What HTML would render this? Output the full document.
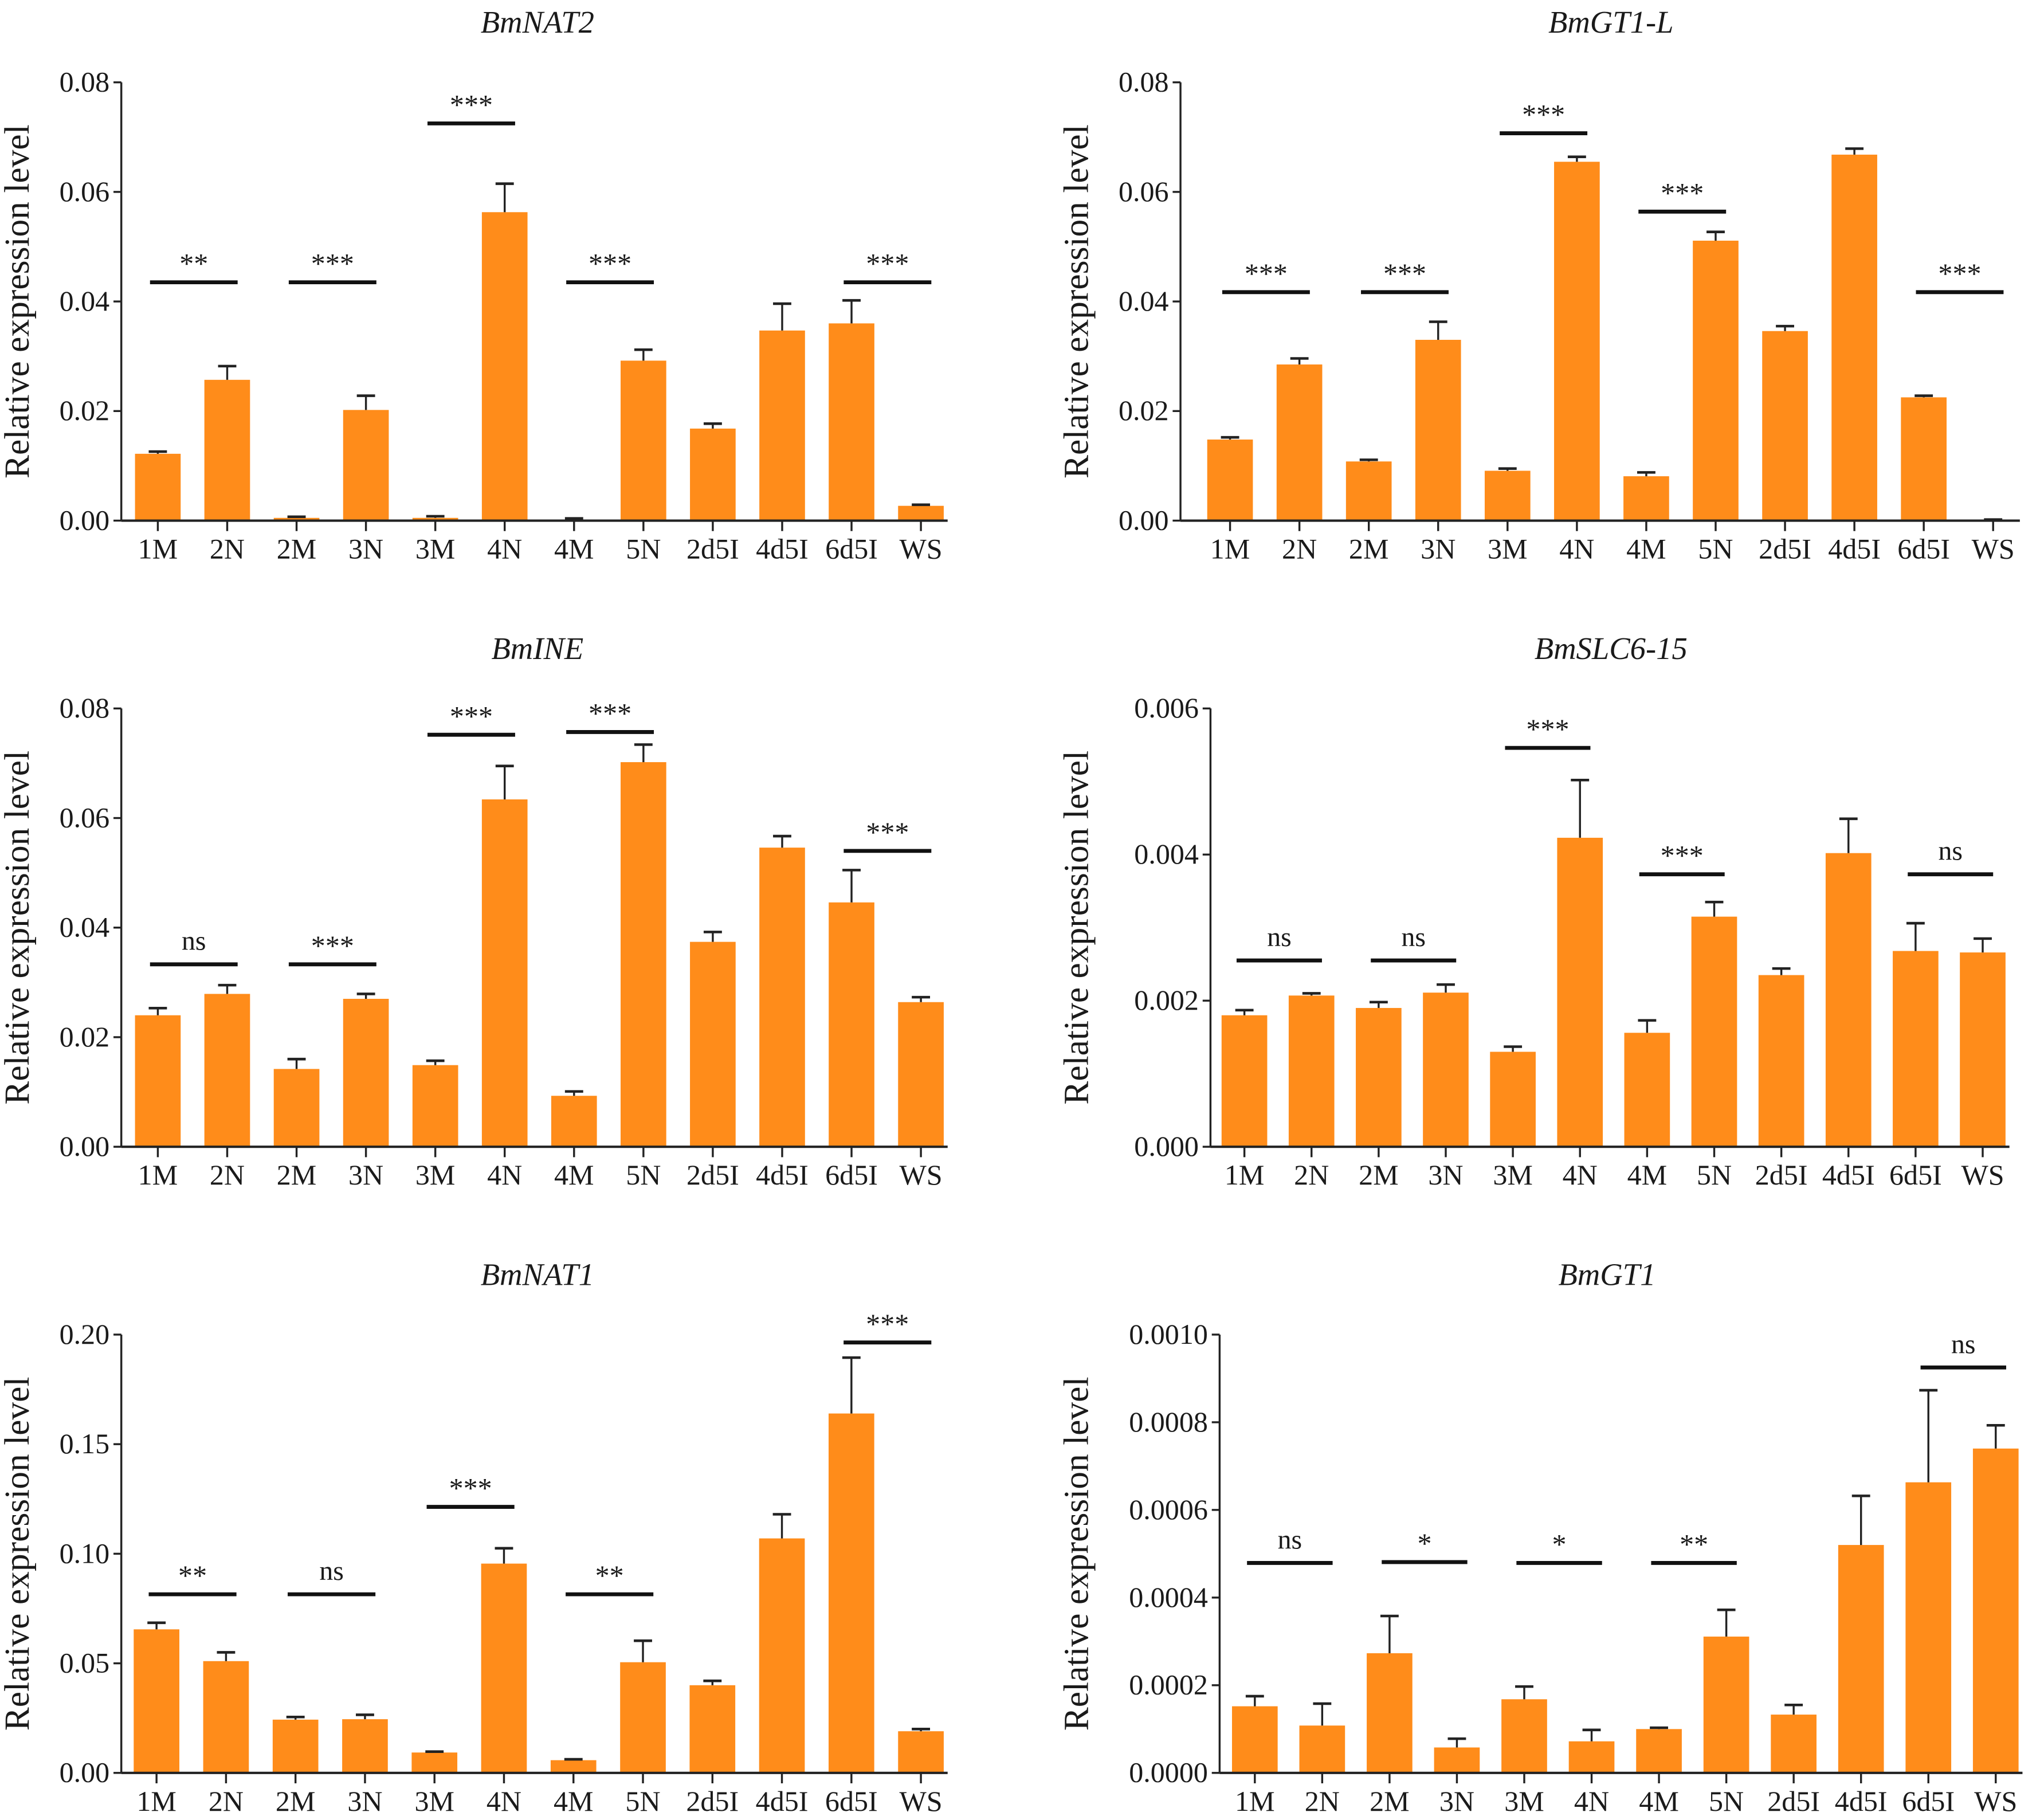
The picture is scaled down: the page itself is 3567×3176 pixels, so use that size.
<!DOCTYPE html>
<html><head><meta charset="utf-8"><style>
html,body{margin:0;padding:0;background:#fff}
svg{display:block}
svg text{font-family:"Liberation Serif","Times New Roman","DejaVu Serif",serif;fill:#1a1a1a}
</style></head><body>
<svg id="fig" width="3567" height="3176" viewBox="0 0 1567 1395" xmlns="http://www.w3.org/2000/svg" font-family="Liberation Serif, Times New Roman, DejaVu Serif, serif"></svg>
<script>
const categories = ["1M","2N","2M","3N","3M","4N","4M","5N","2d5I","4d5I","6d5I","WS"];

const nat2Vals = [0.0122,0.0257,0.0005,0.0202,0.0005,0.0563,0.0002,0.0292,0.0168,0.0347,0.0360,0.0027];
const nat2Errs = [0.0126,0.0282,0.0007,0.0228,0.0008,0.0615,0.0004,0.0312,0.0177,0.0396,0.0402,0.0029];
const nat2Ticks = ["0.00","0.02","0.04","0.06","0.08"];
const nat2SigLabels = ["**","***","***","***","***"];
const nat2SigY = [0.0435,0.0435,0.0725,0.0435,0.0435];

const gt1lVals = [0.0148,0.0285,0.0108,0.0330,0.0091,0.0655,0.0081,0.0511,0.0346,0.0668,0.0225,0.0001];
const gt1lErrs = [0.0152,0.0296,0.0111,0.0363,0.0095,0.0664,0.0088,0.0527,0.0355,0.0679,0.0228,0.0002];
const gt1lTicks = ["0.00","0.02","0.04","0.06","0.08"];
const gt1lSigLabels = ["***","***","***","***","***"];
const gt1lSigY = [0.0417,0.0417,0.0707,0.0564,0.0417];

const ineVals = [0.0240,0.0279,0.0142,0.0270,0.0149,0.0634,0.0093,0.0702,0.0374,0.0546,0.0446,0.0264];
const ineErrs = [0.0253,0.0295,0.0160,0.0279,0.0157,0.0695,0.0101,0.0734,0.0392,0.0567,0.0505,0.0273];
const ineTicks = ["0.00","0.02","0.04","0.06","0.08"];
const ineSigLabels = ["ns","***","***","***","***"];
const ineSigY = [0.0333,0.0333,0.0752,0.0757,0.054];

const slcVals = [0.00180,0.00207,0.00190,0.00211,0.00130,0.00423,0.00156,0.00315,0.00235,0.00402,0.00268,0.00266];
const slcErrs = [0.00187,0.00210,0.00198,0.00222,0.00137,0.00502,0.00173,0.00335,0.00244,0.00449,0.00306,0.00285];
const slcTicks = ["0.000","0.002","0.004","0.006"];
const slcSigLabels = ["ns","ns","***","***","ns"];
const slcSigY = [0.00255,0.00255,0.00546,0.00373,0.00373];

const nat1Vals = [0.0655,0.0510,0.0243,0.0245,0.0093,0.0955,0.0058,0.0505,0.0400,0.1070,0.1640,0.0190];
const nat1Errs = [0.0685,0.0550,0.0255,0.0265,0.0097,0.1025,0.0062,0.0603,0.0420,0.1180,0.1895,0.0200];
const nat1Ticks = ["0.00","0.05","0.10","0.15","0.20"];
const nat1SigLabels = ["**","ns","***","**","***"];
const nat1SigY = [0.0815,0.0815,0.1214,0.0815,0.1964];

const gt1Vals = [0.000152,0.000108,0.000273,0.000058,0.000168,0.000072,0.000100,0.000311,0.000133,0.000520,0.000663,0.000740];
const gt1Errs = [0.000175,0.000158,0.000358,0.000078,0.000197,0.000098,0.000103,0.000372,0.000155,0.000632,0.000873,0.000793];
const gt1Ticks = ["0.0000","0.0002","0.0004","0.0006","0.0008","0.0010"];
const gt1SigLabels = ["ns","*","*","**","ns"];
const gt1SigY = [0.000479,0.000481,0.000479,0.000479,0.000925];

const svg = document.getElementById('fig');
const NS = "http://www.w3.org/2000/svg";
const FONT = '"Liberation Serif", "Times New Roman", "DejaVu Serif", serif';
function mk(tag, attrs, parent){const e=document.createElementNS(NS,tag);for(const k in attrs)e.setAttribute(k,attrs[k]);if(tag==='text')e.style.fontFamily=FONT;parent.appendChild(e);return e;}

function panel(cfg){
  const g = mk('g',{},svg);
  
  
  const max = parseFloat(cfg.ticks[cfg.ticks.length-1]);
  const y = v => cfg.y0 - (v/max)*(cfg.y0-cfg.yTop);
  const step = (cfg.xLast-cfg.xFirst)/(categories.length-1);
  const x = i => cfg.xFirst + i*step;
  const bw = 35;
  const t = mk('text',{x:cfg.titleX,y:cfg.yTop-38,'text-anchor':'middle','font-size':24,'font-style':'italic'},g);
  t.textContent = cfg.title;
  
  
  const yl = mk('text',{x:0,y:0,'text-anchor':'middle','font-size':27,transform:`translate(${cfg.axisX-cfg.ylOff},${(cfg.yTop+cfg.y0)/2}) rotate(-90)`},g);
  yl.textContent = "Relative expression level";
  
  
  categories.forEach((c,i)=>{
    const b = mk('rect',{x:x(i)-bw/2,y:y(cfg.vals[i]),width:bw,height:cfg.y0-y(cfg.vals[i]),fill:'#FF8C1A'},g);
    
    
    const ey = y(cfg.errs[i]);
    const e1 = mk('line',{x1:x(i),x2:x(i),y1:y(cfg.vals[i]),y2:ey,stroke:'#222','stroke-width':1.5},g);
    
    
    mk('line',{x1:x(i)-7,x2:x(i)+7,y1:ey,y2:ey,stroke:'#222','stroke-width':2},g);
    mk('line',{x1:x(i),x2:x(i),y1:cfg.y0,y2:cfg.y0+8,stroke:'#222','stroke-width':1.5},g);
    const lt = mk('text',{x:x(i),y:cfg.y0+29,'text-anchor':'middle','font-size':22},g);
    lt.textContent = c;
    
    
  });
  const ax = mk('line',{x1:cfg.axisX,x2:cfg.axisX,y1:cfg.yTop,y2:cfg.y0,stroke:'#222','stroke-width':1.5},g);
  
  
  const xa = mk('line',{x1:cfg.axisX,x2:cfg.xLast+bw/2+3,y1:cfg.y0,y2:cfg.y0,stroke:'#222','stroke-width':1.8},g);
  
  
  cfg.ticks.forEach(tk=>{
    const yy = y(parseFloat(tk));
    mk('line',{x1:cfg.axisX-6,x2:cfg.axisX,y1:yy,y2:yy,stroke:'#222','stroke-width':1.5},g);
    const tt = mk('text',{x:cfg.axisX-9,y:yy+7,'text-anchor':'end','font-size':22},g);
    tt.textContent = tk;
    
    
  });
  const pairs = [[0,1],[2,3],[4,5],[6,7],[10,11]];
  pairs.forEach((p,k)=>{
    const yy = y(cfg.sigY[k]);
    const l = mk('line',{x1:x(p[0])-6,x2:x(p[1])+8,y1:yy,y2:yy,stroke:'#111','stroke-width':3},g);
    
    
    const s = mk('text',{x:(x(p[0])+x(p[1]))/2+1,y:yy-(cfg.sigLabels[k]==='ns'?11:7),'text-anchor':'middle','font-size':cfg.sigLabels[k]==='ns'?21:22},g);
    s.textContent = cfg.sigLabels[k];
    
    
  });
}

panel({name:'bmnat2',title:'BmNAT2',vals:nat2Vals,errs:nat2Errs,ticks:nat2Ticks,sigLabels:nat2SigLabels,sigY:nat2SigY,axisX:93,yTop:63,y0:399,xFirst:121,xLast:706,titleX:412,ylOff:71});
panel({name:'bmgt1-l',title:'BmGT1-L',vals:gt1lVals,errs:gt1lErrs,ticks:gt1lTicks,sigLabels:gt1lSigLabels,sigY:gt1lSigY,axisX:905,yTop:63,y0:399,xFirst:943,xLast:1528,titleX:1235,ylOff:71});
panel({name:'bmine',title:'BmINE',vals:ineVals,errs:ineErrs,ticks:ineTicks,sigLabels:ineSigLabels,sigY:ineSigY,axisX:93,yTop:543,y0:879,xFirst:121,xLast:706,titleX:412,ylOff:71});
panel({name:'bmslc6-15',title:'BmSLC6-15',vals:slcVals,errs:slcErrs,ticks:slcTicks,sigLabels:slcSigLabels,sigY:slcSigY,axisX:928,yTop:543,y0:879,xFirst:954,xLast:1520,titleX:1235,ylOff:94});
panel({name:'bmnat1',title:'BmNAT1',vals:nat1Vals,errs:nat1Errs,ticks:nat1Ticks,sigLabels:nat1SigLabels,sigY:nat1SigY,axisX:93,yTop:1023,y0:1359,xFirst:120,xLast:706,titleX:412,ylOff:71});
panel({name:'bmgt1',title:'BmGT1',vals:gt1Vals,errs:gt1Errs,ticks:gt1Ticks,sigLabels:gt1SigLabels,sigY:gt1SigY,axisX:935,yTop:1023,y0:1359,xFirst:962,xLast:1530,titleX:1232,ylOff:101});
</script>
</body></html>
